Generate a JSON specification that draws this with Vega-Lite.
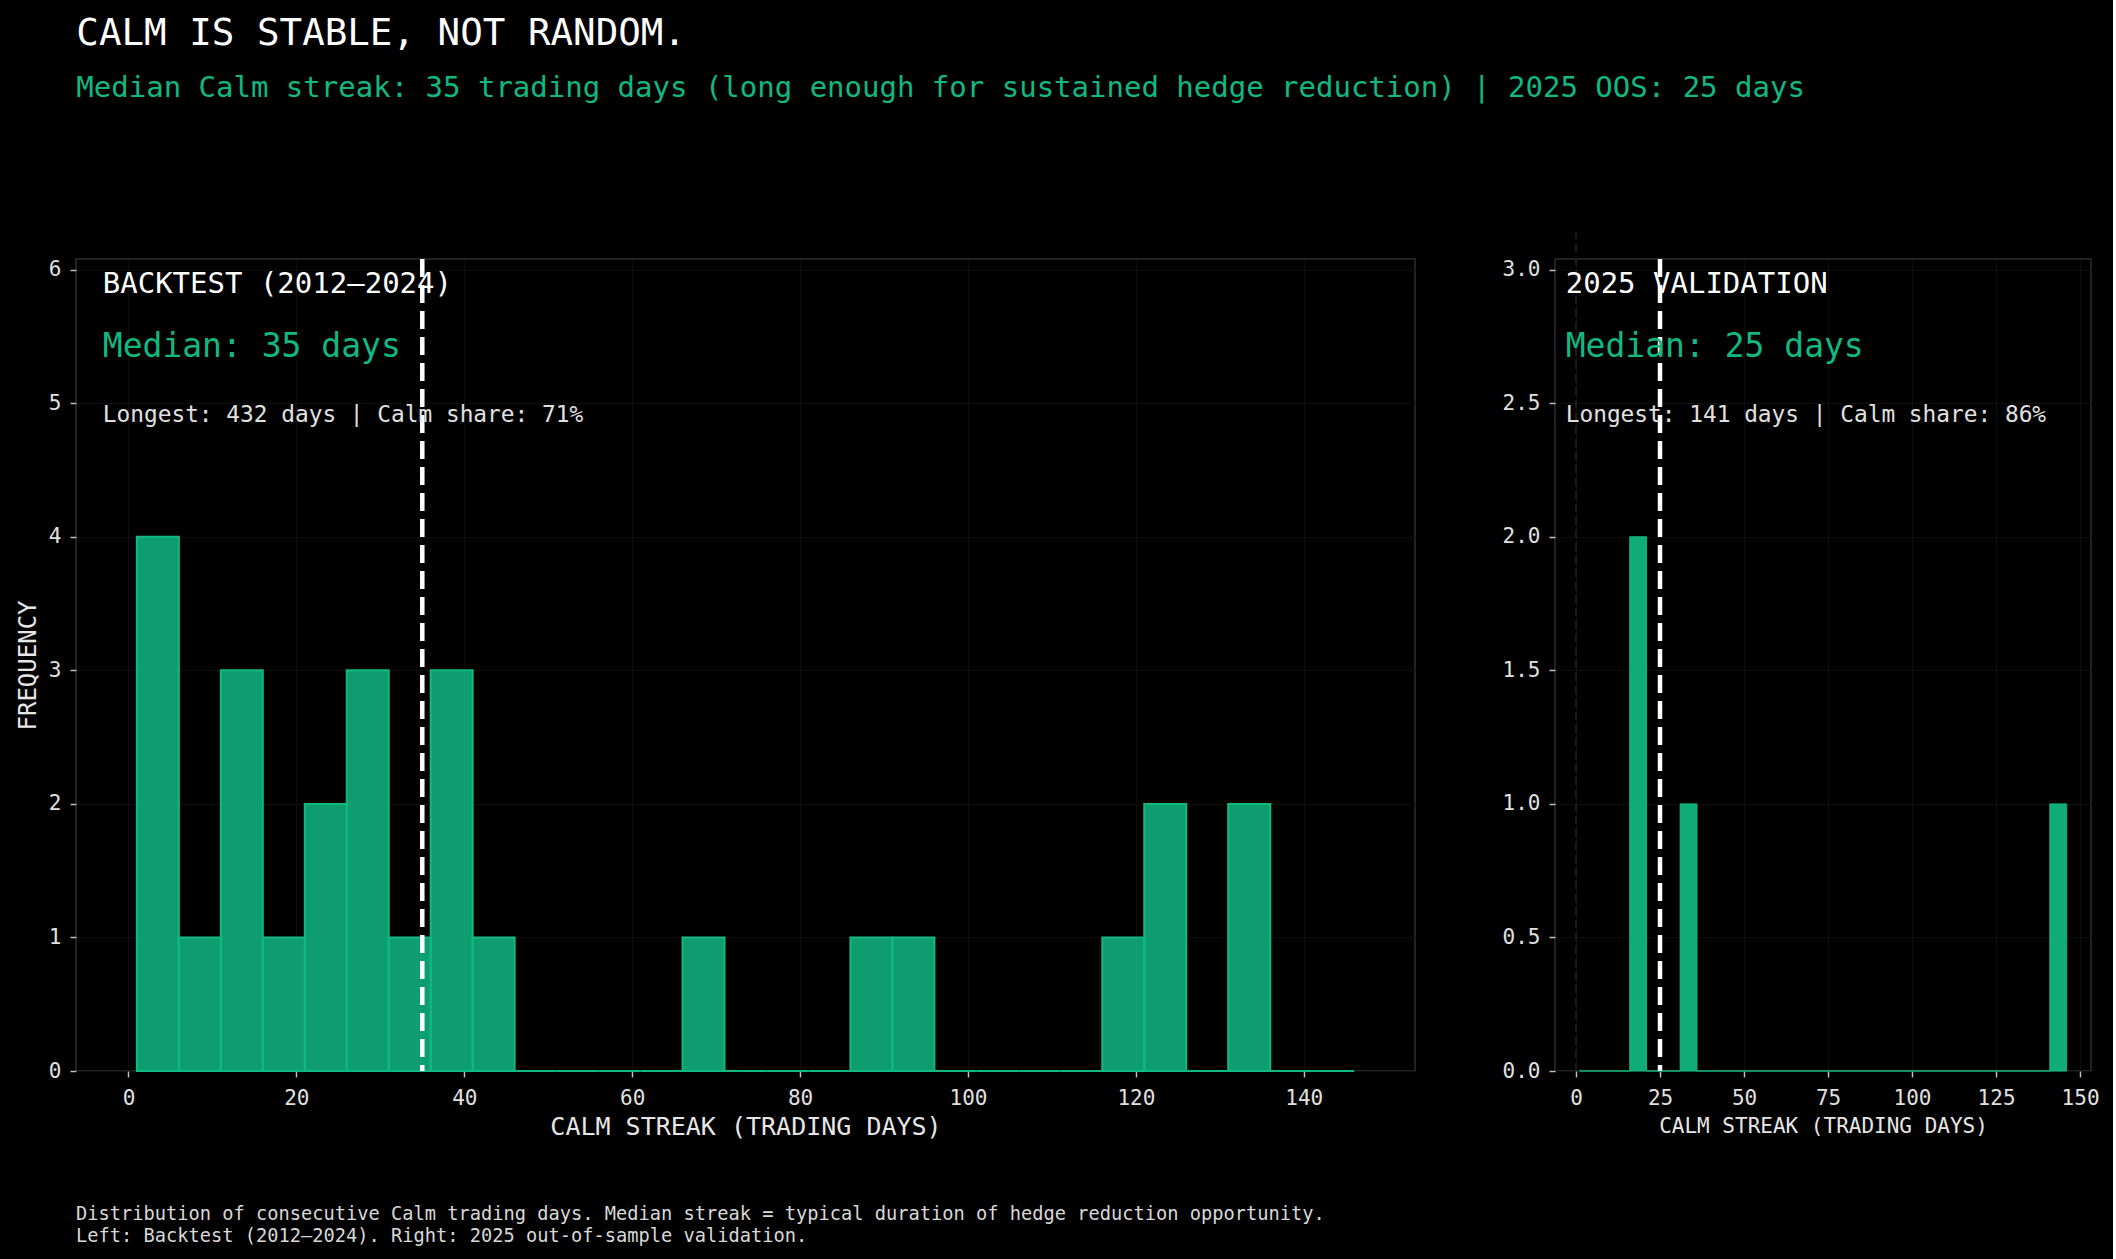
{
  "$schema": "https://vega.github.io/schema/vega-lite/v6.json",
  "background": "#000000",
  "padding": {"left": 15, "top": 14, "right": 12, "bottom": 12},
  "bounds": "flush",
  "spacing": 140,
  "title": {
    "text": "CALM IS STABLE, NOT RANDOM.",
    "subtitle": "Median Calm streak: 35 trading days (long enough for sustained hedge reduction) | 2025 OOS: 25 days",
    "anchor": "start",
    "frame": "bounds",
    "font": "DejaVu Sans Mono",
    "fontSize": 37.5,
    "fontWeight": "normal",
    "color": "#ffffff",
    "subtitleFont": "DejaVu Sans Mono",
    "subtitleFontSize": 29,
    "subtitleColor": "#10b981",
    "subtitlePadding": 22,
    "offset": 127,
    "dx": 61
  },
  "datasets": {
    "backtest": [
      {"bin_start": 1, "bin_end": 6, "count": 4},
      {"bin_start": 6, "bin_end": 11, "count": 1},
      {"bin_start": 11, "bin_end": 16, "count": 3},
      {"bin_start": 16, "bin_end": 21, "count": 1},
      {"bin_start": 21, "bin_end": 26, "count": 2},
      {"bin_start": 26, "bin_end": 31, "count": 3},
      {"bin_start": 31, "bin_end": 36, "count": 1},
      {"bin_start": 36, "bin_end": 41, "count": 3},
      {"bin_start": 41, "bin_end": 46, "count": 1},
      {"bin_start": 46, "bin_end": 51, "count": 0},
      {"bin_start": 51, "bin_end": 56, "count": 0},
      {"bin_start": 56, "bin_end": 61, "count": 0},
      {"bin_start": 61, "bin_end": 66, "count": 0},
      {"bin_start": 66, "bin_end": 71, "count": 1},
      {"bin_start": 71, "bin_end": 76, "count": 0},
      {"bin_start": 76, "bin_end": 81, "count": 0},
      {"bin_start": 81, "bin_end": 86, "count": 0},
      {"bin_start": 86, "bin_end": 91, "count": 1},
      {"bin_start": 91, "bin_end": 96, "count": 1},
      {"bin_start": 96, "bin_end": 101, "count": 0},
      {"bin_start": 101, "bin_end": 106, "count": 0},
      {"bin_start": 106, "bin_end": 111, "count": 0},
      {"bin_start": 111, "bin_end": 116, "count": 0},
      {"bin_start": 116, "bin_end": 121, "count": 1},
      {"bin_start": 121, "bin_end": 126, "count": 2},
      {"bin_start": 126, "bin_end": 131, "count": 0},
      {"bin_start": 131, "bin_end": 136, "count": 2},
      {"bin_start": 136, "bin_end": 141, "count": 0},
      {"bin_start": 141, "bin_end": 146, "count": 0}
    ],
    "validation": [
      {"bin_start": 1, "bin_end": 6, "count": 0},
      {"bin_start": 6, "bin_end": 11, "count": 0},
      {"bin_start": 11, "bin_end": 16, "count": 0},
      {"bin_start": 16, "bin_end": 21, "count": 2},
      {"bin_start": 21, "bin_end": 26, "count": 0},
      {"bin_start": 26, "bin_end": 31, "count": 0},
      {"bin_start": 31, "bin_end": 36, "count": 1},
      {"bin_start": 36, "bin_end": 41, "count": 0},
      {"bin_start": 41, "bin_end": 46, "count": 0},
      {"bin_start": 46, "bin_end": 51, "count": 0},
      {"bin_start": 51, "bin_end": 56, "count": 0},
      {"bin_start": 56, "bin_end": 61, "count": 0},
      {"bin_start": 61, "bin_end": 66, "count": 0},
      {"bin_start": 66, "bin_end": 71, "count": 0},
      {"bin_start": 71, "bin_end": 76, "count": 0},
      {"bin_start": 76, "bin_end": 81, "count": 0},
      {"bin_start": 81, "bin_end": 86, "count": 0},
      {"bin_start": 86, "bin_end": 91, "count": 0},
      {"bin_start": 91, "bin_end": 96, "count": 0},
      {"bin_start": 96, "bin_end": 101, "count": 0},
      {"bin_start": 101, "bin_end": 106, "count": 0},
      {"bin_start": 106, "bin_end": 111, "count": 0},
      {"bin_start": 111, "bin_end": 116, "count": 0},
      {"bin_start": 116, "bin_end": 121, "count": 0},
      {"bin_start": 121, "bin_end": 126, "count": 0},
      {"bin_start": 126, "bin_end": 131, "count": 0},
      {"bin_start": 131, "bin_end": 136, "count": 0},
      {"bin_start": 136, "bin_end": 141, "count": 0},
      {"bin_start": 141, "bin_end": 146, "count": 1}
    ]
  },
  "hconcat": [
    {
      "width": 1339,
      "height": 812,
      "layer": [
        {
          "data": {"name": "backtest"},
          "mark": {"type": "bar", "fill": "#10b981", "fillOpacity": 0.85, "stroke": "#10b981", "strokeWidth": 2},
          "encoding": {
            "x": {"field": "bin_start", "type": "quantitative",
                  "scale": {"domain": [-6.25, 153.25], "nice": false, "zero": false},
                  "axis": {"values": [0, 20, 40, 60, 80, 100, 120, 140], "format": "d", "title": "CALM STREAK (TRADING DAYS)", "titleFontSize": 25, "titlePadding": 6}},
            "x2": {"field": "bin_end"},
            "y": {"field": "count", "type": "quantitative",
                  "scale": {"domain": [0, 6.08], "nice": false},
                  "axis": {"values": [0, 1, 2, 3, 4, 5, 6], "format": "d", "title": "FREQUENCY", "titleFontSize": 24}},
            "y2": {"datum": 0}
          }
        },
        {
          "data": {"values": [{"median": 35}]},
          "mark": {"type": "rule", "color": "#ffffff", "strokeWidth": 4.5, "strokeDash": [18, 8]},
          "encoding": {"x": {"field": "median", "type": "quantitative"}}
        },
        {
          "data": {"values": [{"label": "BACKTEST (2012–2024)"}]},
          "mark": {"type": "text", "align": "left", "baseline": "alphabetic", "fontSize": 29, "color": "#ffffff", "font": "DejaVu Sans Mono"},
          "encoding": {"x": {"datum": -3.06}, "y": {"datum": 5.825}, "text": {"field": "label"}}
        },
        {
          "data": {"values": [{"label": "Median: 35 days"}]},
          "mark": {"type": "text", "align": "left", "baseline": "alphabetic", "fontSize": 33, "color": "#10b981", "font": "DejaVu Sans Mono"},
          "encoding": {"x": {"datum": -3.06}, "y": {"datum": 5.345}, "text": {"field": "label"}}
        },
        {
          "data": {"values": [{"label": "Longest: 432 days | Calm share: 71%"}]},
          "mark": {"type": "text", "align": "left", "baseline": "alphabetic", "fontSize": 22.8, "color": "#e0e0e0", "font": "DejaVu Sans Mono"},
          "encoding": {"x": {"datum": -3.06}, "y": {"datum": 4.86}, "text": {"field": "label"}}
        },
        {
          "data": {"values": [{}]},
          "mark": {"type": "text", "align": "left", "baseline": "alphabetic", "fontSize": 18.7, "lineHeight": 22, "color": "#d8d8d8", "font": "DejaVu Sans Mono",
                   "text": ["Distribution of consecutive Calm trading days. Median streak = typical duration of hedge reduction opportunity.", "Left: Backtest (2012–2024). Right: 2025 out-of-sample validation."]},
          "encoding": {"x": {"datum": -6.25}, "y": {"datum": -1.115}}
        }
      ]
    },
    {
      "width": 536,
      "height": 812,
      "layer": [
        {
          "data": {"values": [{}]},
          "mark": {"type": "rule", "color": "#1c1c1c", "strokeWidth": 2, "strokeDash": [8, 5], "clip": false},
          "encoding": {"x": {"datum": 0}, "y": {"datum": 0}, "y2": {"datum": 3.14}}
        },
        {
          "data": {"name": "validation"},
          "mark": {"type": "bar", "fill": "#10b981", "fillOpacity": 0.93, "stroke": "#10b981", "strokeWidth": 1},
          "encoding": {
            "x": {"field": "bin_start", "type": "quantitative",
                  "scale": {"domain": [-6.25, 153.25], "nice": false, "zero": false},
                  "axis": {"values": [0, 25, 50, 75, 100, 125, 150], "format": "d", "title": "CALM STREAK (TRADING DAYS)", "titleFontSize": 21, "titlePadding": 7}},
            "x2": {"field": "bin_end"},
            "y": {"field": "count", "type": "quantitative",
                  "scale": {"domain": [0, 3.04], "nice": false},
                  "axis": {"values": [0, 0.5, 1, 1.5, 2, 2.5, 3], "format": ".1f", "title": null}},
            "y2": {"datum": 0}
          }
        },
        {
          "data": {"values": [{"median": 25}]},
          "mark": {"type": "rule", "color": "#ffffff", "strokeWidth": 4.5, "strokeDash": [18, 8]},
          "encoding": {"x": {"field": "median", "type": "quantitative"}}
        },
        {
          "data": {"values": [{"label": "2025 VALIDATION"}]},
          "mark": {"type": "text", "align": "left", "baseline": "alphabetic", "fontSize": 29, "color": "#ffffff", "font": "DejaVu Sans Mono"},
          "encoding": {"x": {"datum": -3.06}, "y": {"datum": 2.9125}, "text": {"field": "label"}}
        },
        {
          "data": {"values": [{"label": "Median: 25 days"}]},
          "mark": {"type": "text", "align": "left", "baseline": "alphabetic", "fontSize": 33, "color": "#10b981", "font": "DejaVu Sans Mono"},
          "encoding": {"x": {"datum": -3.06}, "y": {"datum": 2.6725}, "text": {"field": "label"}}
        },
        {
          "data": {"values": [{"label": "Longest: 141 days | Calm share: 86%"}]},
          "mark": {"type": "text", "align": "left", "baseline": "alphabetic", "fontSize": 22.8, "color": "#e0e0e0", "font": "DejaVu Sans Mono"},
          "encoding": {"x": {"datum": -3.06}, "y": {"datum": 2.43}, "text": {"field": "label"}}
        }
      ]
    }
  ],
  "config": {
    "font": "DejaVu Sans Mono",
    "view": {"stroke": "#222222", "strokeWidth": 2},
    "axis": {
      "domain": false,
      "grid": true,
      "gridColor": "#0e0e0e",
      "gridWidth": 1,
      "tickColor": "#bbbbbb",
      "tickSize": 6,
      "tickWidth": 1.5,
      "labelColor": "#e0e0e0",
      "labelFont": "DejaVu Sans Mono",
      "labelFontSize": 21,
      "labelPadding": 9,
      "titleColor": "#e6e6e6",
      "titleFont": "DejaVu Sans Mono",
      "titleFontWeight": "normal",
      "titlePadding": 8
    },
    "axisX": {"labelPadding": 10}
  }
}
